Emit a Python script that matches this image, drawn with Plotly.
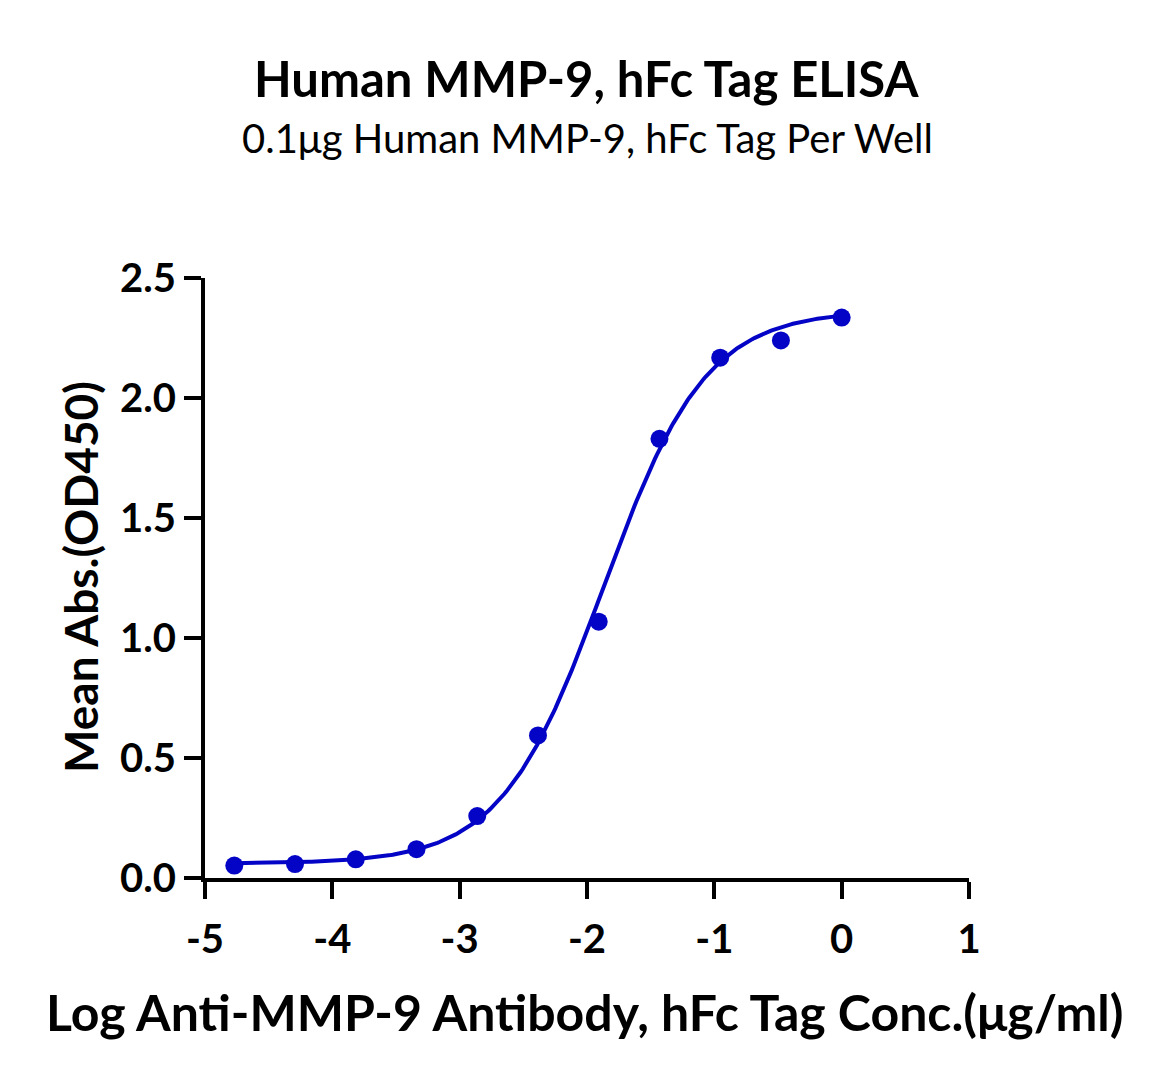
import numpy as np
import plotly.graph_objects as go

# measured points (log conc, mean OD450)
log_conc = [0.0, -0.477, -0.954, -1.431, -1.908, -2.385, -2.862, -3.339, -3.816, -4.293, -4.770]
mean_abs = [2.335, 2.240, 2.168, 1.830, 1.068, 0.594, 0.258, 0.120, 0.078, 0.058, 0.052]

x_ticks = [-5, -4, -3, -2, -1, 0, 1]
x_ticktext = ["-5", "-4", "-3", "-2", "-1", "0", "1"]
y_ticks = [0, 0.5, 1.0, 1.5, 2.0, 2.5]

# 4PL fit parameters
bottom = 0.06
top = 2.365
log_ec50 = -1.87
hill = 1.08

blue = "#0404C6"
font_family = "Lato, Roboto, sans-serif"

xs = np.linspace(min(log_conc), max(log_conc), 300)
fit = bottom + (top - bottom) / (1 + 10 ** ((log_ec50 - xs) * hill))

fig = go.Figure()
fig.add_trace(go.Scatter(x=xs, y=fit, mode="lines",
                         line=dict(color=blue, width=4), showlegend=False))
fig.add_trace(go.Scatter(x=log_conc, y=mean_abs, mode="markers",
                         marker=dict(color=blue, size=18), showlegend=False))

axis_common = dict(
    showgrid=False, zeroline=False, showline=True, linecolor="black", linewidth=4,
    ticks="outside", ticklen=17, tickwidth=4, tickcolor="black",
    tickfont=dict(family=font_family, size=40, color="black", weight="bold"),
)

fig.update_xaxes(range=[-5, 1], tickvals=x_ticks, ticktext=x_ticktext,
                 ticklabelstandoff=6, **axis_common)
fig.update_yaxes(range=[0, 2.5], tickvals=y_ticks, tickformat=".1f",
                 ticklabelstandoff=0, **axis_common)

# page has an 8px body margin, so shift everything up/left by 8
L, T, W, H = 197, 270, 764, 600
fig.update_layout(
    width=1172, height=1084,
    margin=dict(l=L, r=1172 - L - W, t=T, b=1084 - T - H),
    plot_bgcolor="white", paper_bgcolor="white",
)


def px_x(p):
    return (p - 8 - L) / W


def px_y(p):
    return 1 - (p - 8 - T) / H


fig.add_annotation(text="<b>Human MMP-9, hFc Tag ELISA</b>", x=px_x(586), y=px_y(78),
                   xref="paper", yref="paper", xanchor="center", yanchor="middle",
                   showarrow=False, font=dict(family=font_family, size=49, color="black"))
fig.add_annotation(text="0.1μg Human MMP-9, hFc Tag Per Well", x=px_x(587), y=px_y(138),
                   xref="paper", yref="paper", xanchor="center", yanchor="middle",
                   showarrow=False, font=dict(family=font_family, size=40, color="black"))
fig.add_annotation(text="<b>Log Anti-MMP-9 Antibody, hFc Tag Conc.(μg/ml)</b>", x=px_x(585), y=px_y(1012),
                   xref="paper", yref="paper", xanchor="center", yanchor="middle",
                   showarrow=False, font=dict(family=font_family, size=50, color="black"))
fig.add_annotation(text="<b>Mean Abs.(OD450)</b>", x=px_x(80), y=px_y(577), textangle=-90,
                   xref="paper", yref="paper", xanchor="center", yanchor="middle",
                   showarrow=False, font=dict(family=font_family, size=46, color="black"))

fig.write_html("out.html")
